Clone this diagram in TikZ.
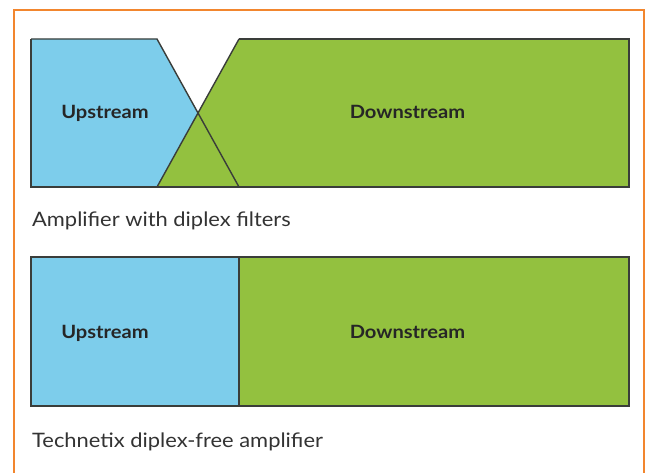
\documentclass[tikz,border=0pt]{standalone}
\usepackage{fontspec}
\setmainfont{Lato}[FakeStretch=1.1]
\definecolor{upblue}{HTML}{7DCDEB}
\definecolor{downgreen}{HTML}{93C13F}
\definecolor{edge}{HTML}{3A3D3A}
\definecolor{frameorange}{HTML}{F2862E}
\definecolor{captext}{HTML}{333333}
\tikzset{
  band/.style={draw=edge, line width=1.4pt, line join=miter},
  bandlabel/.style={font=\fontsize{18.3}{21}\selectfont\bfseries, text=black!85, inner sep=0pt, anchor=base},
  caption/.style={font=\fontsize{19.9}{22}\selectfont, text=captext, anchor=base west, inner sep=0pt}
}
\begin{document}
\begin{tikzpicture}[x=1pt,y=-1pt]
\useasboundingbox (0,0) rectangle (648,473);
\fill[white] (0,0) rectangle (648,473);
% frame
\draw[frameorange, line width=2.6pt] (14,480) -- (14,10) -- (644,10) -- (644,480);
% top: amplifier with diplex filters
\fill[downgreen] (239,39) -- (629,39) -- (629,187) -- (157,187) -- cycle;
\fill[upblue] (31,39) -- (157,39) -- (198,113) -- (157,187) -- (31,187) -- cycle;
\draw[band] (31,39) -- (157,39) -- (239,187);
\draw[band] (239,39) -- (629,39) -- (629,187) -- (31,187) -- (31,39);
\draw[band] (239,39) -- (157,187);
\node[bandlabel] (up1) at (105,119) {Upstream};
\node[bandlabel] (down1) at (407.5,119) {Downstream};
\node[caption] (cap1) at (32,227) {Amplifier with diplex filters};
% bottom: diplex-free
\fill[upblue] (31,257) rectangle (239,406);
\fill[downgreen] (239,257) rectangle (629,406);
\draw[band] (31,257) rectangle (629,406);
\draw[band] (239,257) -- (239,406);
\node[bandlabel] (up2) at (105,338) {Upstream};
\node[bandlabel] (down2) at (407.5,338) {Downstream};
\node[caption] (cap2) at (32,447) {Technetix diplex-free amplifier};
\end{tikzpicture}
\end{document}
